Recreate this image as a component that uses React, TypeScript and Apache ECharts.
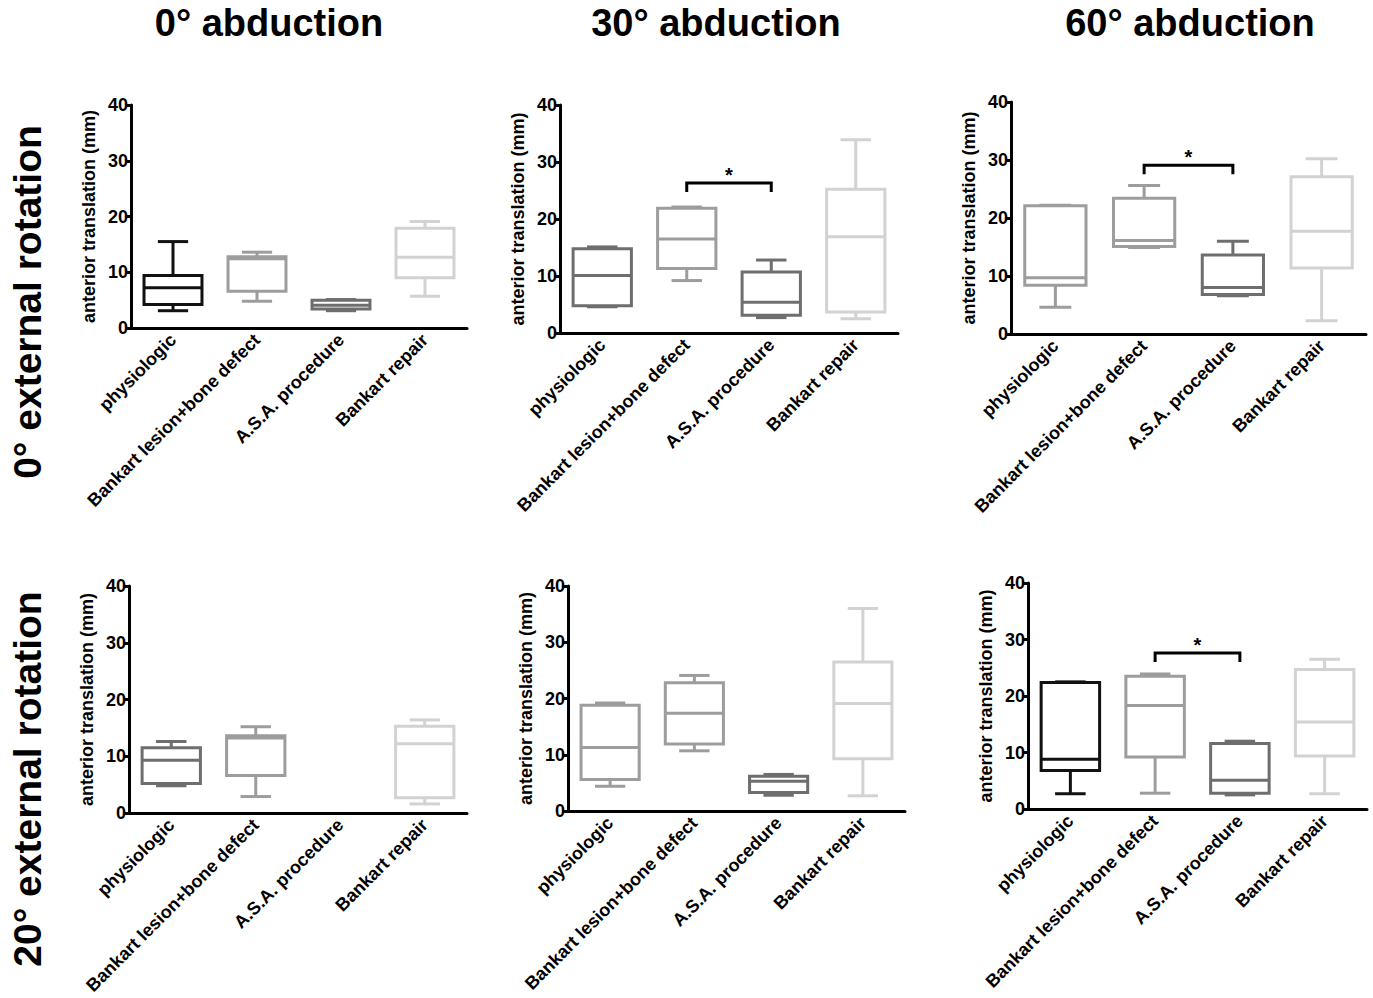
import React, { useEffect, useRef } from "react";
import * as echarts from "echarts";

// ---------- data ----------
const categories = ["physiologic", "Bankart lesion+bone defect", "A.S.A. procedure", "Bankart repair"];
const columnTitles = ["0° abduction", "30° abduction", "60° abduction"];
const rowTitles = ["0° external rotation", "20° external rotation"];
const yAxisName = "anterior translation (mm)";
const yMin = 0;
const yMax = 40;
const yInterval = 10;

// each box: [min, Q1, median, Q3, max]; null = no data
const er0Abd0 = [
  [3.1, 4.2, 7.2, 9.4, 15.5],
  [4.8, 6.6, 12.4, 12.8, 13.6],
  [3.1, 3.4, 4.1, 5.0, 5.1],
  [5.7, 9.0, 12.7, 17.9, 19.1],
];
const er0Abd30 = [
  [4.6, 4.8, 10.1, 14.8, 15.1],
  [9.2, 11.3, 16.5, 21.9, 22.1],
  [2.7, 3.1, 5.4, 10.7, 12.8],
  [2.5, 3.7, 16.9, 25.2, 33.9],
];
const er0Abd60 = [
  [4.6, 8.4, 9.7, 22.1, 22.2],
  [14.9, 15.1, 16.1, 23.4, 25.6],
  [6.6, 6.8, 8.0, 13.6, 16.0],
  [2.3, 11.4, 17.7, 27.1, 30.2],
];
const er20Abd0 = [
  [4.8, 5.2, 9.3, 11.5, 12.6],
  [2.9, 6.6, 13.2, 13.6, 15.2],
  null,
  [1.6, 2.7, 12.2, 15.3, 16.4],
];
const er20Abd30 = [
  [4.4, 5.6, 11.3, 18.8, 19.2],
  [10.7, 11.9, 17.4, 22.8, 24.1],
  [2.8, 3.3, 5.3, 6.2, 6.5],
  [2.7, 9.3, 19.1, 26.5, 36.0],
];
const er20Abd60 = [
  [2.7, 6.8, 8.8, 22.4, 22.5],
  [2.8, 9.2, 18.3, 23.5, 23.9],
  [2.5, 2.8, 5.1, 11.6, 12.0],
  [2.7, 9.4, 15.4, 24.7, 26.5],
];

// significance brackets: [fromCategory, toCategory, height]
const sig0Abd30 = [1, 2, 26.3];
const sig0Abd60 = [1, 2, 29.1];
const sig20Abd60 = [1, 2, 27.6];
const sigLabel = "*";

// ---------- styles ----------
const BLACK = "#111111";
const DARK = "#6e6e6e";
const MID = "#9d9d9d";
const LIGHT = "#d2d2d2";
const FONT = "'Liberation Sans', Arial, Helvetica, sans-serif";
const SMALL = 18;

const panels = [
  { data: er0Abd0, colors: [BLACK, MID, DARK, LIGHT], sig: null, grid: { left: 131, top: 105, width: 336, height: 223 } },
  { data: er0Abd30, colors: [DARK, MID, DARK, LIGHT], sig: sig0Abd30, grid: { left: 560, top: 105, width: 338, height: 228 } },
  { data: er0Abd60, colors: [MID, MID, DARK, LIGHT], sig: sig0Abd60, grid: { left: 1011, top: 102, width: 355, height: 232 } },
  { data: er20Abd0, colors: [DARK, MID, DARK, LIGHT], sig: null, grid: { left: 129, top: 586, width: 338, height: 227 } },
  { data: er20Abd30, colors: [MID, MID, DARK, LIGHT], sig: null, grid: { left: 568, top: 586, width: 337, height: 225 } },
  { data: er20Abd60, colors: [BLACK, MID, DARK, LIGHT], sig: sig20Abd60, grid: { left: 1028, top: 583, width: 339, height: 226 } },
];

function makeBoxRenderer(colors: string[]) {
  return (params: any, api: any) => {
    const ci = api.value(0);
    const vMin = api.value(1), q1 = api.value(2), med = api.value(3), q3 = api.value(4), vMax = api.value(5);
    const pMin = api.coord([ci, vMin]);
    const x = pMin[0];
    const yMinP = pMin[1];
    const yQ1 = api.coord([ci, q1])[1];
    const yMed = api.coord([ci, med])[1];
    const yQ3 = api.coord([ci, q3])[1];
    const yMaxP = api.coord([ci, vMax])[1];
    const band = api.size([1, 0])[0];
    const bw = band * 0.69;
    const cw = band * 0.36;
    const color = colors[ci];
    const ls = { stroke: color, lineWidth: 3, fill: "none" };
    return {
      type: "group",
      children: [
        { type: "line", shape: { x1: x, y1: yQ3, x2: x, y2: yMaxP }, style: ls },
        { type: "line", shape: { x1: x - cw / 2, y1: yMaxP, x2: x + cw / 2, y2: yMaxP }, style: ls },
        { type: "line", shape: { x1: x, y1: yQ1, x2: x, y2: yMinP }, style: ls },
        { type: "line", shape: { x1: x - cw / 2, y1: yMinP, x2: x + cw / 2, y2: yMinP }, style: ls },
        { type: "rect", shape: { x: x - bw / 2, y: yQ3, width: bw, height: yQ1 - yQ3 }, style: { stroke: color, lineWidth: 3, fill: "#ffffff" } },
        { type: "line", shape: { x1: x - bw / 2, y1: yMed, x2: x + bw / 2, y2: yMed }, style: ls },
      ],
    };
  };
}

function renderSig(params: any, api: any) {
  const a = api.value(0), b = api.value(1), h = api.value(2);
  const p1 = api.coord([a, h]);
  const p2 = api.coord([b, h]);
  return {
    type: "group",
    children: [
      {
        type: "polyline",
        shape: { points: [[p1[0], p1[1] + 9], [p1[0], p1[1]], [p2[0], p2[1]], [p2[0], p2[1] + 9]] },
        style: { stroke: "#000", lineWidth: 3, fill: "none" },
      },
      {
        type: "text",
        x: (p1[0] + p2[0]) / 2,
        y: p1[1] - 8,
        style: { text: sigLabel, font: `bold 20px ${FONT}`, fill: "#000", align: "center", verticalAlign: "middle" },
      },
    ],
  };
}

export default function App() {
  const ref = useRef<HTMLDivElement>(null);
  useEffect(() => {
    if (!ref.current) return;
    const chart = echarts.init(ref.current, undefined, { renderer: "svg" });
    const grid: any[] = [];
    const xAxis: any[] = [];
    const yAxis: any[] = [];
    const series: any[] = [];
    panels.forEach((p, i) => {
      grid.push({ ...p.grid, containLabel: false });
      xAxis.push({
        type: "category",
        gridIndex: i,
        data: categories,
        boundaryGap: true,
        axisLine: { lineStyle: { color: "#000", width: 3 } },
        axisTick: { alignWithLabel: true, length: 7, lineStyle: { color: "#000", width: 3 } },
        axisLabel: { interval: 0, rotate: 45, margin: 9, color: "#000", fontWeight: "bold", fontSize: SMALL, fontFamily: FONT },
        splitLine: { show: false },
      });
      yAxis.push({
        type: "value",
        gridIndex: i,
        min: yMin,
        max: yMax,
        interval: yInterval,
        name: yAxisName,
        nameLocation: "middle",
        nameGap: 33,
        nameTextStyle: { color: "#000", fontWeight: "bold", fontSize: SMALL, fontFamily: FONT },
        axisLine: { show: true, lineStyle: { color: "#000", width: 3 } },
        axisTick: { show: true, length: 5, lineStyle: { color: "#000", width: 3 } },
        axisLabel: { margin: 3, color: "#000", fontWeight: "bold", fontSize: SMALL, fontFamily: FONT },
        splitLine: { show: false },
      });
      const boxData: any[] = [];
      p.data.forEach((d, ci) => {
        if (d) boxData.push([ci, ...d]);
      });
      series.push({
        type: "custom",
        xAxisIndex: i,
        yAxisIndex: i,
        renderItem: makeBoxRenderer(p.colors),
        encode: { x: 0, y: [1, 2, 3, 4, 5] },
        data: boxData,
        clip: false,
      });
      if (p.sig) {
        series.push({
          type: "custom",
          xAxisIndex: i,
          yAxisIndex: i,
          renderItem: renderSig,
          encode: { x: [0, 1], y: 2 },
          data: [p.sig],
          clip: false,
        });
      }
    });

    const titleX = [269, 716, 1190];
    const rowY = [302, 779];
    const graphic: any[] = [];
    columnTitles.forEach((t, i) => {
      graphic.push({
        type: "text",
        x: titleX[i],
        y: 23,
        style: { text: t, font: `bold 38px ${FONT}`, fill: "#000", align: "center", verticalAlign: "middle" },
      });
    });
    rowTitles.forEach((t, i) => {
      graphic.push({
        type: "text",
        x: 27,
        y: rowY[i],
        rotation: Math.PI / 2,
        style: { text: t, font: `bold 39px ${FONT}`, fill: "#000", align: "center", verticalAlign: "middle" },
      });
    });

    chart.setOption({
      animation: false,
      backgroundColor: "#ffffff",
      grid,
      xAxis,
      yAxis,
      series,
      graphic,
    });
    return () => chart.dispose();
  }, []);
  return <div ref={ref} style={{ position: "absolute", left: 0, top: 0, width: 1373, height: 998 }} />;
}
